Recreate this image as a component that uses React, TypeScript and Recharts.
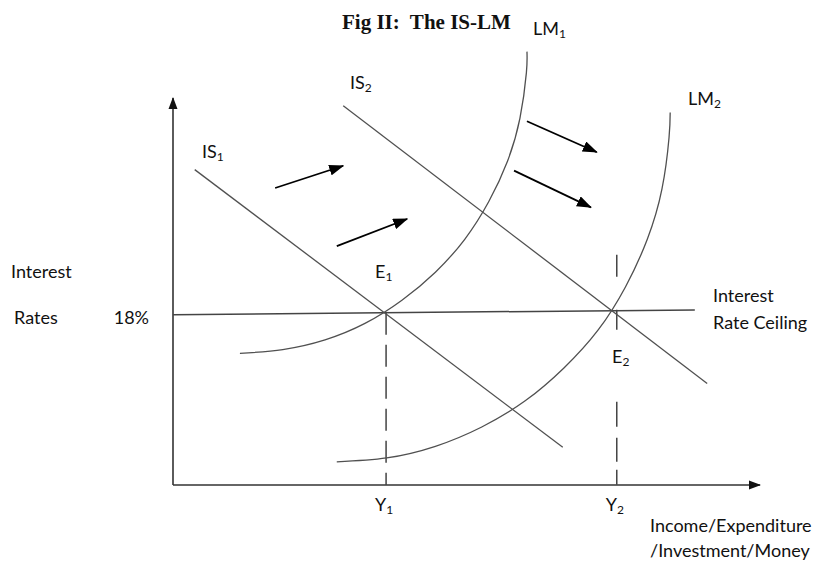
import { ComposedChart, Line, XAxis, YAxis } from "recharts";

// points: x = income, y = interest rate
const is1 = [
  { x: 3.7, y: 32.6 },
  { x: 66.4, y: 3.9 },
];
const is2 = [
  { x: 29.0, y: 39.2 },
  { x: 91.0, y: 10.5 },
];
const lm1 = [
  { x: 11.4, y: 13.6 },
  { x: 18.7, y: 14.0 },
  { x: 25.9, y: 15.0 },
  { x: 32.7, y: 16.7 },
  { x: 39.0, y: 19.1 },
  { x: 44.7, y: 22.0 },
  { x: 49.7, y: 25.4 },
  { x: 53.8, y: 29.3 },
  { x: 57.0, y: 33.5 },
  { x: 59.1, y: 37.9 },
  { x: 60.2, y: 42.6 },
  { x: 60.3, y: 44.8 },
];
const lm2 = [
  { x: 27.9, y: 2.4 },
  { x: 36.4, y: 2.8 },
  { x: 44.7, y: 4.0 },
  { x: 52.6, y: 6.0 },
  { x: 60.0, y: 8.7 },
  { x: 66.6, y: 12.1 },
  { x: 72.4, y: 16.0 },
  { x: 77.1, y: 20.5 },
  { x: 80.8, y: 25.4 },
  { x: 83.3, y: 30.6 },
  { x: 84.5, y: 35.9 },
  { x: 84.7, y: 38.5 },
];
const ceiling = [
  { x: 0, y: 17.6 },
  { x: 88.9, y: 18.1 },
];
const y1Drop = [
  { x: 36.3, y: 17.8 },
  { x: 36.3, y: 0 },
];
const y2Drop = [
  { x: 75.6, y: 23.8 },
  { x: 75.6, y: 0 },
];
const xAxisLine = [
  { x: 0, y: 0 },
  { x: 100, y: 0 },
];
const yAxisLine = [
  { x: 0, y: 0 },
  { x: 0, y: 40 },
];
// shift arrows (IS moves right, LM moves right)
const isShifts = [
  [
    { x: 17.4, y: 30.7 },
    { x: 29.0, y: 33.0 },
  ],
  [
    { x: 27.9, y: 24.7 },
    { x: 39.9, y: 27.5 },
  ],
];
const lmShifts = [
  [
    { x: 60.3, y: 37.6 },
    { x: 72.2, y: 34.4 },
  ],
  [
    { x: 58.1, y: 32.5 },
    { x: 71.2, y: 28.7 },
  ],
];

const xTickValues = [36.3, 75.6];
const xTickNames = ["Y1", "Y2"];
const yTickValues = [18];
const yTickNames = ["18%"];

const FONT = "Lato, 'Open Sans', sans-serif";
const INK = "#111";

function XTick(props: any) {
  const { x, y, payload } = props;
  const name = xTickNames[xTickValues.indexOf(payload.value)] || "";
  return (
    <text x={x - 11} y={y + 18} fontFamily={FONT} fontSize={18} fill={INK}>
      {name.slice(0, 1)}
      <tspan fontSize={12} dy={3}>
        {name.slice(1)}
      </tspan>
    </text>
  );
}

function YTick(props: any) {
  const { x, y, payload } = props;
  const name = yTickNames[yTickValues.indexOf(payload.value)] || "";
  return (
    <text x={x - 16} y={y + 13} textAnchor="end" fontFamily={FONT} fontSize={18} fill={INK}>
      {name}
    </text>
  );
}

// a label with a subscript digit, positioned by its baseline
function SubLabel({ x, y, base, sub }: { x: number; y: number; base: string; sub: string }) {
  return (
    <text x={x} y={y} fontFamily={FONT} fontSize={18} fill={INK}>
      {base}
      <tspan fontSize={12} dy={3}>
        {sub}
      </tspan>
    </text>
  );
}

function Txt({ x, y, children }: { x: number; y: number; children: string }) {
  return (
    <text x={x} y={y} fontFamily={FONT} fontSize={18} fill={INK}>
      {children}
    </text>
  );
}

export default function App() {
  const curve = { dot: false, activeDot: false, isAnimationActive: false, dataKey: "y" } as const;

  return (
    <div style={{ position: "absolute", left: 0, top: 0, width: 819, height: 562, background: "#fff" }}>
      <ComposedChart width={819} height={562} margin={{ top: 40, right: 59, bottom: 47, left: 0 }}>
        <defs>
          <marker id="axisHead" markerWidth="12" markerHeight="10" refX="11" refY="5" orient="auto" markerUnits="userSpaceOnUse">
            <path d="M0,0.5 L12,5 L0,9.5 z" fill="#111" />
          </marker>
          <marker id="shiftHead" markerWidth="15" markerHeight="11" refX="14" refY="5.5" orient="auto" markerUnits="userSpaceOnUse">
            <path d="M0,0 L15,5.5 L0,11 z" fill="#000" />
          </marker>
        </defs>
        <XAxis
          type="number"
          dataKey="x"
          domain={[0, 100]}
          ticks={xTickValues}
          axisLine={false}
          tickLine={false}
          height={30}
          tick={<XTick />}
        />
        <YAxis
          type="number"
          domain={[0, 46]}
          ticks={yTickValues}
          axisLine={false}
          tickLine={false}
          width={173}
          tick={<YTick />}
        />

        <Line {...curve} data={xAxisLine} type="linear" stroke="#333" strokeWidth={1.6} markerEnd="url(#axisHead)" />
        <Line {...curve} data={yAxisLine} type="linear" stroke="#333" strokeWidth={1.6} markerEnd="url(#axisHead)" />

        <Line {...curve} data={ceiling} type="linear" stroke="#444" strokeWidth={1.5} />
        <Line {...curve} data={y1Drop} type="linear" stroke="#444" strokeWidth={1.5} strokeDasharray="22 10" />
        <Line {...curve} data={y2Drop} type="linear" stroke="#444" strokeWidth={1.5} strokeDasharray="22 33 20 72 25 11 24 8 15 8" />

        <Line {...curve} data={is1} type="linear" stroke="#505050" strokeWidth={1.3} />
        <Line {...curve} data={is2} type="linear" stroke="#505050" strokeWidth={1.3} />
        <Line {...curve} data={lm1} type="natural" stroke="#505050" strokeWidth={1.3} />
        <Line {...curve} data={lm2} type="natural" stroke="#505050" strokeWidth={1.3} />

        {isShifts.map((seg, i) => (
          <Line key={`is-${i}`} {...curve} data={seg} type="linear" stroke="#000" strokeWidth={1.8} markerEnd="url(#shiftHead)" />
        ))}
        {lmShifts.map((seg, i) => (
          <Line key={`lm-${i}`} {...curve} data={seg} type="linear" stroke="#000" strokeWidth={1.8} markerEnd="url(#shiftHead)" />
        ))}
      </ComposedChart>

      <svg width={819} height={562} style={{ position: "absolute", left: 0, top: 0, pointerEvents: "none" }}>
        <text
          x={342}
          y={29}
          fontFamily="'Liberation Serif', 'Times New Roman', serif"
          fontWeight="bold"
          fontSize={21}
          fill={INK}
          style={{ whiteSpace: "pre" }}
        >
          {"Fig II:  The IS-LM"}
        </text>
        <SubLabel x={533} y={35} base="LM" sub="1" />
        <SubLabel x={350} y={89} base="IS" sub="2" />
        <SubLabel x={688} y={105} base="LM" sub="2" />
        <SubLabel x={202} y={158} base="IS" sub="1" />
        <SubLabel x={375} y={278} base="E" sub="1" />
        <SubLabel x={612} y={363} base="E" sub="2" />
        <Txt x={11} y={278}>Interest</Txt>
        <Txt x={14} y={324}>Rates</Txt>
        <Txt x={713} y={302}>Interest</Txt>
        <Txt x={713} y={329}>Rate Ceiling</Txt>
        <Txt x={650} y={532}>Income/Expenditure</Txt>
        <Txt x={650} y={557}>/Investment/Money</Txt>
      </svg>
    </div>
  );
}
